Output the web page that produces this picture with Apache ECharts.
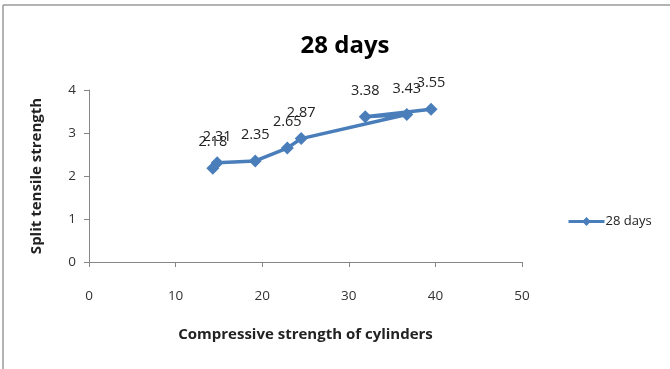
<!DOCTYPE html>
<html>
<head>
<meta charset="utf-8">
<script src="https://cdn.jsdelivr.net/npm/echarts@6/dist/echarts.min.js"></script>
<style>
  html, body { margin: 0; padding: 0; background: #fff; }
  #chart { width: 670px; height: 369px; }
</style>
</head>
<body>
<div id="chart"></div>
<script>
// Compressive strength of cylinders (x) vs split tensile strength (y), 28 days
var compressive = [14.3, 14.8, 19.2, 22.9, 24.5, 36.7, 31.9, 39.5];
var splitTensile = [2.18, 2.31, 2.35, 2.65, 2.87, 3.43, 3.38, 3.55];
var seriesName = '28 days';
var xTicks = { min: 0, max: 50, interval: 10 };
var yTicks = { min: 0, max: 4, interval: 1 };

var points = compressive.map(function (x, i) { return [x, splitTensile[i]]; });

var font = '"Open Sans", Lato, sans-serif';
var chart = echarts.init(document.getElementById('chart'), null, { renderer: 'canvas' });
chart.setOption({
  backgroundColor: '#ffffff',
  animation: false,
  title: {
    text: '28 days',
    left: 340,
    top: 29,
    textAlign: 'center',
    textStyle: { fontFamily: font, fontSize: 24, fontWeight: 'bold', color: '#000' }
  },
  legend: {
    left: 562,
    top: 210,
    itemWidth: 36,
    itemHeight: 11,
    itemGap: 2,
    lineStyle: { width: 3 },
    textStyle: { fontFamily: font, fontSize: 13, color: '#222', padding: [0, 0, 0, -4] },
    data: [{ name: seriesName }]
  },
  grid: { left: 89, right: 148, top: 90, bottom: 107 },
  xAxis: {
    type: 'value',
    min: xTicks.min, max: xTicks.max, interval: xTicks.interval,
    name: 'Compressive strength of cylinders',
    nameLocation: 'middle',
    nameGap: 65,
    nameTextStyle: { fontFamily: font, fontSize: 15, fontWeight: 'bold', color: '#222' },
    axisLine: { lineStyle: { color: '#868686', width: 1 } },
    axisTick: { show: true, length: 5, inside: false, lineStyle: { color: '#868686' } },
    axisLabel: { fontFamily: font, fontSize: 13.5, color: '#333', margin: 27 },
    splitLine: { show: false }
  },
  yAxis: {
    type: 'value',
    min: yTicks.min, max: yTicks.max, interval: yTicks.interval,
    name: 'Split tensile strength',
    nameLocation: 'middle',
    nameGap: 45,
    nameRotate: 90,
    nameTextStyle: { fontFamily: font, fontSize: 15, fontWeight: 'bold', color: '#222' },
    axisLine: { show: true, lineStyle: { color: '#868686', width: 1 } },
    axisTick: { show: true, length: 5, lineStyle: { color: '#868686' } },
    axisLabel: { fontFamily: font, fontSize: 13.5, color: '#333', margin: 13 },
    splitLine: { show: false }
  },
  series: [{
    name: seriesName,
    type: 'line',
    data: points,
    symbol: 'diamond',
    symbolSize: 13,
    lineStyle: { color: '#4a7ebb', width: 3.5 },
    itemStyle: { color: '#4a7ebb' },
    label: {
      show: true,
      position: 'top',
      distance: 12,
      fontFamily: font,
      fontSize: 14.5,
      color: '#222',
      formatter: function (p) { return p.value[1].toFixed(2); }
    }
  }],
  graphic: [
    { type: 'line', shape: { x1: 3, y1: 5, x2: 670, y2: 5 }, style: { stroke: '#9a9a9a', lineWidth: 1.5 } },
    { type: 'line', shape: { x1: 3, y1: 5, x2: 3, y2: 369 }, style: { stroke: '#9a9a9a', lineWidth: 1.5 } }
  ]
});
</script>
</body>
</html>
